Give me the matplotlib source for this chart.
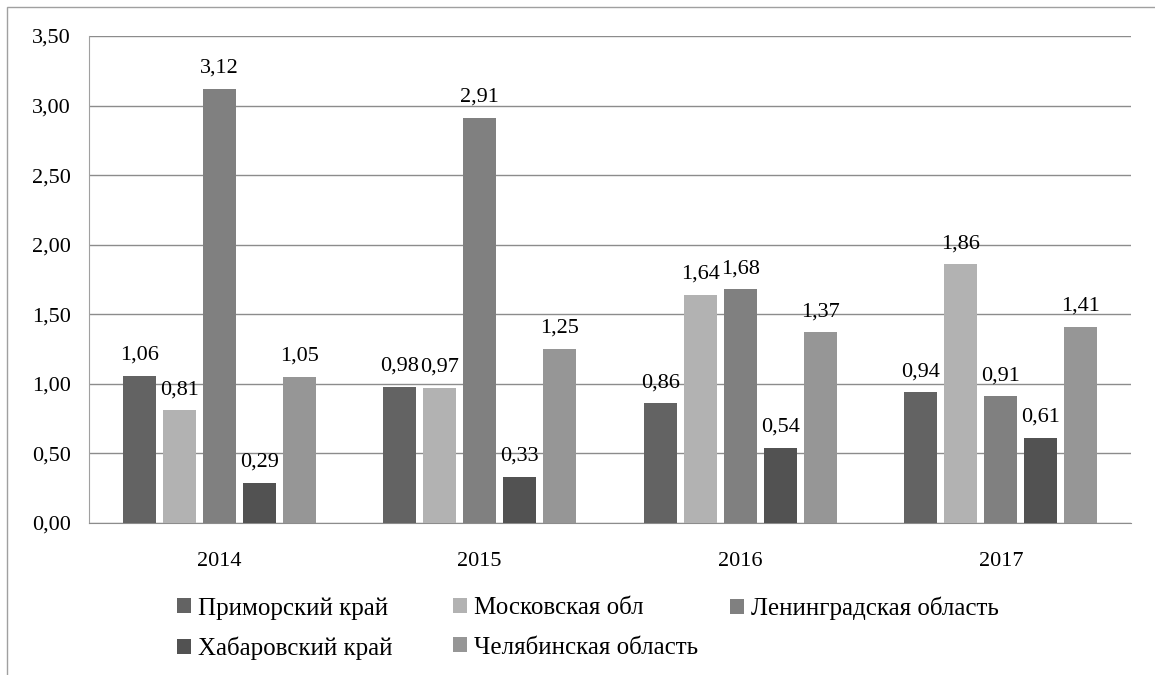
import matplotlib
matplotlib.use("Agg")
import matplotlib.pyplot as plt
from matplotlib.patches import Rectangle
import numpy as np

years = ["2014", "2015", "2016", "2017"]
series_names = ["Приморский край", "Московская обл", "Ленинградская область",
                "Хабаровский край", "Челябинская область"]
primorsky = [1.06, 0.98, 0.86, 0.94]
moscow = [0.81, 0.97, 1.64, 1.86]
leningrad = [3.12, 2.91, 1.68, 0.91]
khabarovsk = [0.29, 0.33, 0.54, 0.61]
chelyabinsk = [1.05, 1.25, 1.37, 1.41]
series = [primorsky, moscow, leningrad, khabarovsk, chelyabinsk]
colors = ["#636363", "#b2b2b2", "#808080", "#525252", "#969696"]
yticks = [0, 0.5, 1.0, 1.5, 2.0, 2.5, 3.0, 3.5]

plt.rcParams['font.family'] = ['Liberation Serif', 'DejaVu Serif']
FS = 16
LFS = 18
W, H = 1155, 675
fig = plt.figure(figsize=(W / 100, H / 100), dpi=100)
ax = fig.add_axes([89/W, 1-523/H, (1131-89)/W, (523-36)/H])

fig.patches.append(Rectangle((7/W, -0.1), 1.2, 1-7/H+0.1, transform=fig.transFigure,
                             fill=False, edgecolor="#a0a0a0", linewidth=1))

x = np.arange(len(years))
step = 0.1535
width = 0.127
handles = []
for j, (vals, col, name) in enumerate(zip(series, colors, series_names)):
    pos = x + (j - 2) * step
    b = ax.bar(pos, vals, width, color=col, label=name, zorder=3)
    handles.append(b)
    for p, v in zip(pos, vals):
        ax.annotate(f"{v:.2f}".replace(".", ","), (p, v), xytext=(0, 8),
                    textcoords="offset points", ha="center", va="bottom", fontsize=FS)

ax.set_ylim(0, 3.5)
ax.set_xlim(-0.5, 3.5)
ax.set_yticks(yticks)
ax.set_yticklabels([f"{t:.2f}".replace(".", ",") for t in yticks], fontsize=FS)
ax.set_xticks(x)
ax.set_xticklabels(years, fontsize=FS)
ax.tick_params(axis='x', length=0, pad=21)
ax.tick_params(axis='y', length=0, pad=13)
ax.grid(axis='y', color="#8c8c8c", linewidth=1, zorder=0)
for s in ["top", "right"]:
    ax.spines[s].set_visible(False)
ax.spines["left"].set_color("#a0a0a0")
ax.spines["bottom"].set_color("#8c8c8c")

# Legend laid out in fixed-width columns (row-major order like the original)
columns = [[0, 3], [1, 4], [2]]
col_x = [177, 453, 730]
for cx, idxs in zip(col_x, columns):
    leg = fig.legend([handles[i] for i in idxs], [series_names[i] for i in idxs],
                     loc="upper left", bbox_to_anchor=(cx / W, 1 - 597 / H),
                     frameon=False, fontsize=LFS, borderpad=0, borderaxespad=0,
                     handlelength=0.55, handleheight=0.55, handletextpad=0.3,
                     labelspacing=0.7)

fig.savefig("out.png", dpi=100)
